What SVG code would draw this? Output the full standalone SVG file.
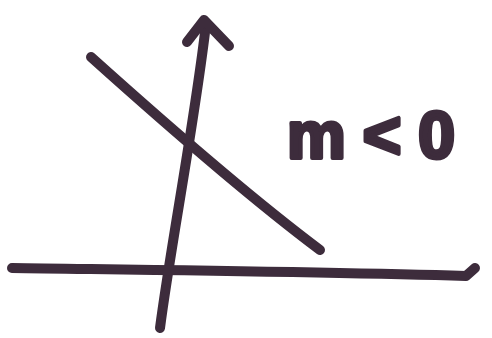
<svg xmlns="http://www.w3.org/2000/svg" width="492" height="338" viewBox="0 0 492 338">
<style>
.ink{fill:none;stroke:#3d2c3c;stroke-width:10;stroke-linecap:round;stroke-linejoin:round}
.lbl{font-family:"Liberation Sans",Arial,sans-serif;font-weight:bold;fill:#3d2c3c;stroke:#3d2c3c;stroke-width:4;stroke-linejoin:round}
</style>
<rect width="492" height="338" fill="#ffffff"/>
<g id="axes">
<path id="y-axis" class="ink" d="M160,328 C170,250 195,120 206,24"/>
<path id="y-arrowhead" class="ink" d="M187,42 L204,20 L229,46"/>
<path id="x-axis" class="ink" d="M12,268 C150,270 330,272 466,276 L475,268"/>
</g>
<g id="line">
<path class="ink" d="M91,57 C150,110 240,190 320,250"/>
</g>
<g id="label">
<text class="lbl" x="287" y="158" font-size="66" textLength="168" lengthAdjust="spacing">m&lt;0</text>
</g>
</svg>
